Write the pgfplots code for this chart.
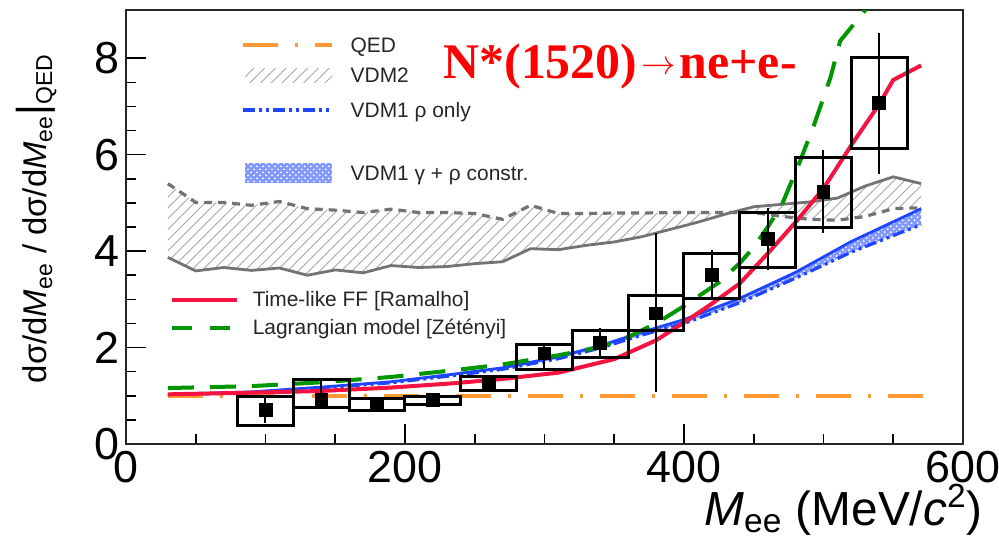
\documentclass[border=0pt]{standalone}
\usepackage{fontspec}
\setmainfont{Liberation Sans}
\newfontfamily\tnr{Liberation Serif}
\usepackage{pgfplots}
\usepackage{pgfplotstable}
\pgfplotsset{compat=1.18}
\usetikzlibrary{patterns,patterns.meta}
\usepgfplotslibrary{fillbetween}

\definecolor{qedorange}{RGB}{255,153,51}
\definecolor{ffred}{RGB}{245,20,65}
\definecolor{laggreen}{RGB}{0,150,0}
\definecolor{vdmblue}{RGB}{30,70,255}
\definecolor{vdmgray}{RGB}{115,115,115}
\definecolor{titlered}{RGB}{255,0,0}

% data points: value, stat errors (plus/minus)
\pgfplotstableread{
x   y    ep   em
100 0.70 0.25 0.27
140 0.91 0.46 0.16
180 0.84 0.09 0.09
220 0.91 0.14 0.11
260 1.26 0.12 0.12
300 1.88 0.22 0.35
340 2.10 0.30 0.34
380 2.71 1.66 1.63
420 3.50 0.52 0.52
460 4.26 0.63 0.66
500 5.22 0.87 0.85
540 7.08 1.45 1.49
}\datatab

% VDM2 band edges
\pgfplotstableread{
x   lo   hi
30  3.87 5.40
50  3.59 5.01
70  3.66 5.01
90  3.60 4.95
110 3.65 5.03
130 3.50 4.88
150 3.61 4.85
170 3.55 4.80
190 3.70 4.87
210 3.66 4.80
230 3.68 4.80
250 3.74 4.78
270 3.78 4.66
290 4.05 4.95
310 4.03 4.78
330 4.12 4.78
350 4.19 4.79
370 4.30 4.79
390 4.45 4.80
410 4.60 4.80
430 4.77 4.80
450 4.92 4.80
470 4.97 4.72
490 5.02 4.66
510 5.10 4.64
530 5.35 4.72
550 5.54 4.88
570 5.40 4.90
}\vdmtwo

% VDM1 curves
\pgfplotstableread{
x   hi   lo
30  1.03 1.02
90  1.08 1.07
140 1.18 1.16
190 1.29 1.27
235 1.45 1.42
270 1.58 1.55
310 1.81 1.77
340 2.04 1.99
370 2.32 2.26
400 2.58 2.50
440 3.02 2.93
480 3.56 3.44
520 4.20 3.98
570 4.88 4.55
}\vdmone

\begin{document}
\begin{tikzpicture}
\begin{axis}[
  at={(0,0)}, anchor=south west,
  scale only axis, width=418.5bp, height=217bp,
  xmin=0, xmax=600, ymin=0, ymax=9,
  xtick={0,200,400,600}, ytick={0,2,4,6,8},
  minor x tick num=3, minor y tick num=3,
  tick align=inside, tick pos=left,
  major tick length=10bp, minor tick length=5bp,
  axis line style={line width=1bp, black!85},
  tick style={line width=0.8bp, black},
  tick label style={font=\fontsize{22.5}{22.5}\selectfont},
  /pgf/number format/assume math mode=true,
  unbounded coords=jump,
  xlabel={\textit{M}\textsubscript{ee} (MeV/\textit{c}\textsuperscript{2})},
  xlabel style={at={(rel axis cs:1.032,-0.187)}, anchor=base east,
    font=\fontsize{24}{24}\selectfont},
  ylabel={dσ/d\textit{M}\textsubscript{ee} / dσ/d\textit{M}\textsubscript{ee}{\fontsize{21}{21}\selectfont|}\textsubscript{QED}},
  ylabel style={at={(rel axis cs:-0.0944,0.915)}, rotate=0, anchor=base east,
    font=\fontsize{16.5}{16.5}\selectfont},
]

% VDM2 hatched band
\addplot[name path=vA, vdmgray, line width=1.4bp] table[x=x, y=lo] {\vdmtwo};
\addplot[name path=vB, vdmgray, line width=1.6bp, dash pattern=on 4bp off 3bp] table[x=x, y=hi] {\vdmtwo};
\addplot[draw=none, pattern={Lines[angle=45,distance=3.8bp,line width=0.45bp]}, pattern color=gray!70]
  fill between[of=vA and vB];

% VDM1 band
\addplot[name path=bA, vdmblue, line width=1.4bp] table[x=x, y=hi] {\vdmone};
\addplot[name path=bB, vdmblue, line width=1.6bp,
  dash pattern=on 6bp off 2bp on 1.5bp off 2bp on 1.5bp off 2bp] table[x=x, y=lo] {\vdmone};
\addplot[draw=none, fill=vdmblue!55] fill between[of=bA and bB];
\addplot[draw=none, pattern=crosshatch dots, pattern color=white] fill between[of=bA and bB];

% QED
\addplot[qedorange, line width=2bp, dash pattern=on 17.5bp off 8.5bp on 1.5bp off 8.5bp]
  coordinates {(30,1) (580,1)};

% Time-like FF
\addplot[ffred, line width=2bp] coordinates {
(30,1.03) (100,1.07) (140,1.10) (190,1.17) (235,1.26) (270,1.35) (310,1.48)
(350,1.76) (380,2.15) (400,2.52) (420,2.91) (440,3.33) (460,3.95) (480,4.60)
(500,5.30) (520,6.20) (540,7.05) (550,7.55) (570,7.85)};

% Lagrangian model
\addplot[laggreen, line width=2bp, dash pattern=on 13bp off 8bp] coordinates {
(30,1.16) (90,1.20) (140,1.28) (190,1.39) (235,1.53) (270,1.65) (310,1.84)
(340,2.01) (360,2.22) (380,2.50) (400,2.86) (425,3.35) (440,3.75) (450,4.08)
(460,4.50) (470,4.95) (483,5.85) (493,6.60) (505,7.60) (512,8.36) (530,9.0) (560,9.8)};

% systematic boxes
\addplot[black, line width=1.5bp, line cap=rect] coordinates {
(80,0.38) (120,0.38) (120,0.98) (80,0.98) (80,0.38) (80,nan)
(120,0.75) (160,0.75) (160,1.33) (120,1.33) (120,0.75) (120,nan)
(160,0.70) (200,0.70) (200,0.94) (160,0.94) (160,0.70) (160,nan)
(200,0.81) (240,0.81) (240,0.99) (200,0.99) (200,0.81) (200,nan)
(240,1.10) (280,1.10) (280,1.39) (240,1.39) (240,1.10) (240,nan)
(280,1.55) (320,1.55) (320,2.07) (280,2.07) (280,1.55) (280,nan)
(320,1.80) (360,1.80) (360,2.36) (320,2.36) (320,1.80) (320,nan)
(360,2.36) (400,2.36) (400,3.08) (360,3.08) (360,2.36) (360,nan)
(400,3.02) (440,3.02) (440,3.95) (400,3.95) (400,3.02) (400,nan)
(440,3.66) (480,3.66) (480,4.80) (440,4.80) (440,3.66) (440,nan)
(480,4.48) (520,4.48) (520,5.94) (480,5.94) (480,4.48) (480,nan)
(520,6.13) (560,6.13) (560,8.01) (520,8.01) (520,6.13)};

% data points with statistical errors
\addplot[black, only marks, mark=square*, mark size=3.2bp,
  error bars/.cd, y dir=both, y explicit, error mark=none,
  error bar style={line width=1bp, black}]
  table[x=x, y=y, y error plus=ep, y error minus=em] {\datatab};

% legend (upper block)
\draw[qedorange, line width=2bp, dash pattern=on 17.5bp off 8.5bp on 1.5bp off 8.5bp]
  (rel axis cs:0.140,0.919) -- (rel axis cs:0.246,0.919);
\path[pattern={Lines[angle=45,distance=3.8bp,line width=0.45bp]}, pattern color=gray!70]
  (rel axis cs:0.142,0.832) rectangle (rel axis cs:0.246,0.866);
\draw[vdmblue, line width=2bp, dash pattern=on 6bp off 2bp on 1.5bp off 2bp on 1.5bp off 2bp]
  (rel axis cs:0.140,0.770) -- (rel axis cs:0.246,0.770);
\path[fill=vdmblue!55] (rel axis cs:0.142,0.601) rectangle (rel axis cs:0.246,0.647);
\path[pattern=crosshatch dots, pattern color=white]
  (rel axis cs:0.142,0.601) rectangle (rel axis cs:0.246,0.647);
\begin{scope}[every node/.style={anchor=base west, inner sep=0pt,
    font=\fontsize{10.5}{10.5}\selectfont, text=black!85}]
\node at (rel axis cs:0.268,0.901) {QED};
\node at (rel axis cs:0.268,0.832) {VDM2};
\node at (rel axis cs:0.268,0.753) {VDM1 ρ only};
\node at (rel axis cs:0.268,0.608) {VDM1 γ + ρ constr.};
\node at (rel axis cs:0.151,0.316) {Time-like FF [Ramalho]};
\node at (rel axis cs:0.151,0.253) {Lagrangian model [Zétényi]};
\end{scope}
% legend (lower block)
\draw[ffred, line width=2bp] (rel axis cs:0.055,0.332) -- (rel axis cs:0.133,0.332);
\draw[laggreen, line width=2bp, dash pattern=on 10bp off 9bp]
  (rel axis cs:0.055,0.267) -- (rel axis cs:0.133,0.267);

% title
\node[anchor=base west, inner sep=0pt, text=titlered,
  font=\tnr\bfseries\fontsize{25}{25}\selectfont]
  at (rel axis cs:0.379,0.843)
  {N*(1520)\hspace{2bp}\raisebox{2bp}{\fontsize{17}{17}\selectfont$\rightarrow$}\hspace{2bp}ne+e-};
\end{axis}
\pgfresetboundingbox
\path (-63bp,-46.5bp) rectangle (436.5bp,222bp);
\end{tikzpicture}
\end{document}
